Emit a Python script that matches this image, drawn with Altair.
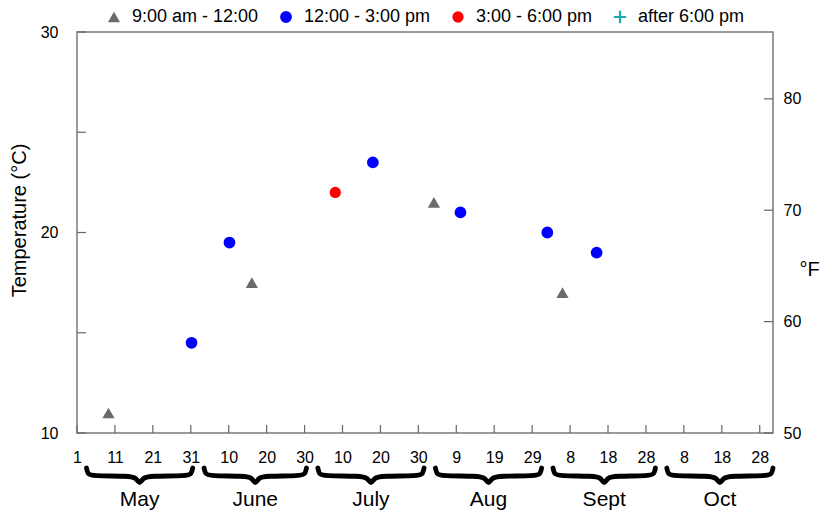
import altair as alt
import pandas as pd

# ---------------- data ----------------
periods = ["9:00 am - 12:00", "12:00 - 3:00 pm", "3:00 - 6:00 pm", "after 6:00 pm"]
period_colors = ["#6b6b6b", "#0000ff", "#ff0000", "#1aabab"]
plus_path = "M-1.15,-0.2H1.15V0.2H-1.15Z M-0.2,-1.15H0.2V1.15H-0.2Z"
period_shapes = ["triangle-up", "circle", "circle", plus_path]
period_sizes = [150, 115, 115, 115]

# day index counted from May 1 (= 0)
obs_day = [8.3, 30.2, 40.2, 46.1, 68.1, 78.0, 94.1, 101.1, 124.0, 128.0, 137.0]
obs_temp = [11.0, 14.5, 19.5, 17.5, 22.0, 23.5, 21.5, 21.0, 20.0, 17.0, 19.0]
obs_period = [periods[0], periods[1], periods[1], periods[0], periods[2], periods[1],
              periods[0], periods[1], periods[1], periods[0], periods[1]]

x_tick_days = list(range(0, 181, 10))
x_tick_labels = ["1", "11", "21", "31", "10", "20", "30", "10", "20", "30",
                 "9", "19", "29", "8", "18", "28", "8", "18", "28"]
c_ticks = [10, 15, 20, 25, 30]
c_labels = [10, 20, 30]
f_ticks = [50, 60, 70, 80]

months = ["May", "June", "July", "Aug", "Sept", "Oct"]
month_start = [0, 31, 61, 92, 123, 153]
month_len = [31, 30, 31, 31, 30, 31]

# brace outline template (fraction along brace, depth 0=top..1=bottom)
brace_t = [0.0, 0.012, 0.05, 0.40, 0.47, 0.5, 0.53, 0.60, 0.95, 0.988, 1.0]
brace_d = [0.0, 0.35, 0.47, 0.47, 0.57, 1.0, 0.57, 0.47, 0.47, 0.35, 0.0]

# ---------------- tables ----------------
obs = pd.DataFrame({"day": obs_day, "temp": obs_temp, "period": obs_period})
xt = pd.DataFrame({"day": x_tick_days})
ct = pd.DataFrame({"temp": c_ticks})
ft = pd.DataFrame({"f": f_ticks})

rows = []
mrows = []
for m, s, n in zip(months, month_start, month_len):
    a, b = s + 2.5, s + n - 0.5
    for i, (t, d) in enumerate(zip(brace_t, brace_d)):
        rows.append({"month": m, "i": i, "day": a + t * (b - a), "depth": d})
    mrows.append({"month": m, "mid": (a + b) / 2})
braces = pd.DataFrame(rows)
mlab = pd.DataFrame(mrows)

W, H = 696, 401
xscale = alt.Scale(domain=[0, 183.5], nice=False, zero=False)
cscale = alt.Scale(domain=[10, 30], nice=False, zero=False)
fscale = alt.Scale(domain=[50, 86], nice=False, zero=False)
label_expr = "[" + ",".join('"%s"' % s for s in x_tick_labels) + "][round(datum.value/10)]"

x_axis = alt.Axis(values=x_tick_days, labelExpr=label_expr, ticks=False, tickSize=0,
                  domain=False, grid=False, labelPadding=16, labelFontSize=16,
                  labelColor="black", labelFlush=False, labelOverlap=False,
                  labelBound=False, title=None)

leg = dict(orient="none", legendX=28, legendY=-24, direction="horizontal", title=None,
           labelFontSize=18, labelColor="black", symbolSize=95, labelOffset=9,
           columnPadding=18, symbolStrokeWidth=0)

points = alt.Chart(obs).mark_point(filled=True, opacity=1).encode(
    x=alt.X("day:Q", scale=xscale, axis=x_axis),
    y=alt.Y("temp:Q", scale=cscale, axis=alt.Axis(
        values=c_labels, ticks=False, tickSize=0, domain=False, grid=False,
        labelPadding=19, labelFontSize=16, labelColor="black", labelFlush=False,
        title="Temperature (°C)", titleFontSize=20, titleFontWeight="normal",
        titleColor="black", titleX=-58, titleY=188, titleBaseline="middle",
        titleAlign="center")),
    color=alt.Color("period:N", scale=alt.Scale(domain=periods, range=period_colors),
                    legend=alt.Legend(**leg)),
    shape=alt.Shape("period:N", scale=alt.Scale(domain=periods, range=period_shapes),
                    legend=alt.Legend(**leg)),
    size=alt.Size("period:N", scale=alt.Scale(domain=periods, range=period_sizes),
                  legend=None),
)

x_ticks = alt.Chart(xt).mark_rule(color="#666666", strokeWidth=1.2).encode(
    x=alt.X("day:Q", scale=xscale, axis=x_axis), y=alt.value(H), y2=alt.value(H - 8))

c_tick_rules = alt.Chart(ct).mark_rule(color="#666666", strokeWidth=1.2).encode(
    y=alt.Y("temp:Q", scale=cscale), x=alt.value(0), x2=alt.value(9))

left = alt.layer(points, x_ticks, c_tick_rules)

right = alt.Chart(ft).mark_rule(color="#666666", strokeWidth=1.2).encode(
    y=alt.Y("f:Q", scale=fscale, axis=alt.Axis(
        orient="right", values=f_ticks, ticks=False, tickSize=0, domain=False,
        grid=False, labelPadding=10, labelFontSize=16, labelColor="black",
        labelFlush=False, title="°F", titleAngle=0, titleFontSize=20,
        titleFontWeight="normal", titleColor="black", titleX=26, titleY=237,
        titleAlign="left", titleBaseline="middle")),
    x=alt.value(W - 9), x2=alt.value(W))

brace_lines = alt.Chart(braces).mark_line(
    color="black", strokeWidth=4.8, interpolate="basis", strokeCap="round",
    strokeJoin="round").encode(
    x=alt.X("day:Q", scale=xscale, axis=x_axis),
    y=alt.Y("depth:Q", scale=alt.Scale(domain=[0, 1], range=[436, 453]), axis=None),
    detail="month:N", order="i:Q")

month_text = alt.Chart(mlab).mark_text(fontSize=21, color="black", baseline="middle").encode(
    x=alt.X("mid:Q", scale=xscale, axis=x_axis), y=alt.value(468), text="month:N")

bottom = alt.layer(brace_lines, month_text)

chart = alt.layer(left, right, bottom).resolve_scale(y="independent").properties(
    width=W, height=H,
    padding={"left": 77, "top": 32, "right": 48, "bottom": 82},
    autosize=alt.AutoSizeParams(type="none"),
).configure(font="Liberation Sans").configure_view(
    stroke="#7a7a7a", strokeWidth=1.5
).configure_axis(labelOverlap=False)

chart.save("out.html", embed_options={"renderer": "svg", "actions": False})
